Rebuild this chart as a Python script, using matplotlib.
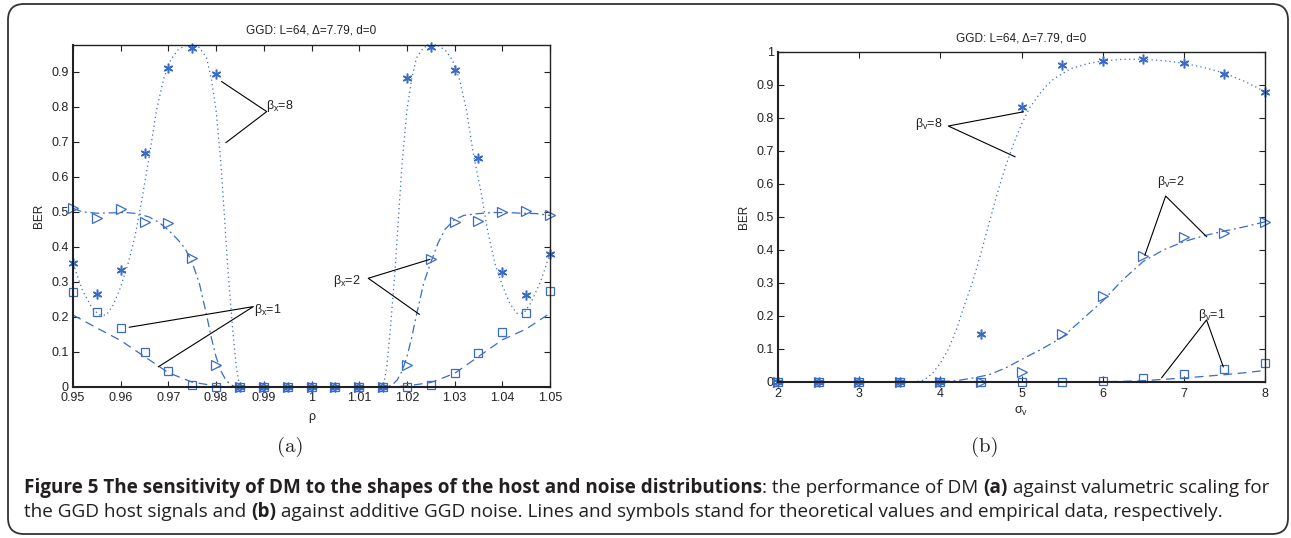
import numpy as np
import matplotlib
matplotlib.use('Agg')
import matplotlib.pyplot as plt
from matplotlib.patches import FancyBboxPatch
from matplotlib.transforms import IdentityTransform

plt.rcParams['font.family'] = ['Liberation Sans', 'DejaVu Sans']
plt.rcParams['mathtext.fontset'] = 'custom'
plt.rcParams['mathtext.rm'] = 'Liberation Sans'
plt.rcParams['mathtext.it'] = 'Liberation Sans'
plt.rcParams['mathtext.bf'] = 'Liberation Sans:bold'

# ---------------- data: panel (a) ----------------
rho = [0.950, 0.955, 0.960, 0.965, 0.970, 0.975, 0.980, 0.985, 0.990, 0.995, 1.000,
       1.005, 1.010, 1.015, 1.020, 1.025, 1.030, 1.035, 1.040, 1.045, 1.050]
emp_a_b8 = [0.353, 0.264, 0.334, 0.669, 0.912, 0.968, 0.894, 0, 0, 0, 0, 0, 0, 0,
            0.884, 0.971, 0.905, 0.655, 0.327, 0.263, 0.379]
emp_a_b2 = [0.510, 0.482, 0.507, 0.472, 0.467, 0.369, 0.062, 0, 0, 0, 0, 0, 0, 0,
            0.062, 0.364, 0.472, 0.475, 0.499, 0.503, 0.491]
emp_a_b1 = [0.272, 0.215, 0.167, 0.098, 0.045, 0.006, 0.0, 0, 0, 0, 0, 0, 0, 0,
            0.0, 0.005, 0.038, 0.095, 0.157, 0.212, 0.275]

th_a_b8_x = [0.950, 0.952, 0.954, 0.9555, 0.957, 0.9585, 0.960, 0.9615, 0.963, 0.9645,
             0.966, 0.9675, 0.969, 0.9705, 0.972, 0.9735, 0.975, 0.9765, 0.978, 0.979,
             0.980, 0.981, 0.9817, 0.9825, 0.9835, 0.9842, 0.9848, 0.985,
             1.015, 1.0152, 1.0158, 1.0165, 1.0175, 1.0183, 1.019, 1.020, 1.021, 1.022,
             1.0235, 1.025, 1.0265, 1.028, 1.0295, 1.031, 1.0325, 1.034, 1.0355, 1.037,
             1.0385, 1.040, 1.0415, 1.043, 1.0445, 1.046, 1.048, 1.050]
th_a_b8_y = [0.352, 0.275, 0.225, 0.205, 0.205, 0.235, 0.285, 0.350, 0.430, 0.540,
             0.660, 0.790, 0.880, 0.935, 0.963, 0.975, 0.977, 0.970, 0.940, 0.880,
             0.790, 0.640, 0.497, 0.330, 0.160, 0.060, 0.010, 0.0,
             0.0, 0.010, 0.060, 0.160, 0.330, 0.497, 0.640, 0.790, 0.880, 0.940,
             0.970, 0.977, 0.975, 0.963, 0.935, 0.880, 0.790, 0.660, 0.560, 0.440,
             0.350, 0.290, 0.240, 0.210, 0.210, 0.240, 0.300, 0.380]

th_a_b2_x = [0.950, 0.952, 0.955, 0.958, 0.961, 0.9635, 0.966, 0.968, 0.970, 0.972,
             0.9735, 0.975, 0.9765, 0.978, 0.979, 0.980, 0.981, 0.982, 0.983, 0.984,
             1.016, 1.017, 1.018, 1.019, 1.020, 1.021, 1.022, 1.0235, 1.025, 1.0265,
             1.028, 1.030, 1.032, 1.035, 1.038, 1.041, 1.044, 1.047, 1.050]
th_a_b2_y = [0.510, 0.500, 0.496, 0.497, 0.498, 0.495, 0.485, 0.470, 0.448, 0.420,
             0.395, 0.355, 0.295, 0.205, 0.140, 0.085, 0.045, 0.020, 0.006, 0.0,
             0.0, 0.006, 0.020, 0.045, 0.085, 0.140, 0.205, 0.295, 0.355, 0.410,
             0.450, 0.478, 0.490, 0.495, 0.498, 0.498, 0.496, 0.495, 0.490]

th_a_b1_x = [0.950, 0.955, 0.960, 0.965, 0.970, 0.975, 0.980, 0.9825,
             1.0175, 1.020, 1.025, 1.030, 1.035, 1.040, 1.045, 1.050]
th_a_b1_y = [0.205, 0.168, 0.132, 0.086, 0.040, 0.013, 0.002, 0.0,
             0.0, 0.002, 0.012, 0.038, 0.086, 0.134, 0.165, 0.210]

# ---------------- data: panel (b) ----------------
sigma = [2.0, 2.5, 3.0, 3.5, 4.0, 4.5, 5.0, 5.5, 6.0, 6.5, 7.0, 7.5, 8.0]
emp_b_b8 = [0, 0, 0, 0, 0, 0.144, 0.833, 0.960, 0.973, 0.978, 0.967, 0.932, 0.877]
emp_b_b2 = [0, 0, 0, 0, 0, 0, 0.031, 0.145, 0.261, 0.381, 0.440, 0.450, 0.485]
emp_b_b1 = [0, 0, 0, 0, 0, 0, 0, 0, 0.002, 0.013, 0.023, 0.039, 0.057]

th_b_b8_x = [2.0, 3.5, 3.7, 3.8, 3.9, 4.0, 4.1, 4.2, 4.3, 4.4, 4.5, 4.6, 4.7, 4.8, 4.9,
             5.0, 5.1, 5.2, 5.3, 5.4, 5.6, 5.8, 6.0, 6.25, 6.5, 6.75, 7.0, 7.25, 7.5,
             7.75, 8.0]
th_b_b8_y = [0.0, 0.0, 0.001, 0.006, 0.025, 0.057, 0.100, 0.160, 0.235, 0.305, 0.390,
             0.480, 0.570, 0.650, 0.720, 0.780, 0.830, 0.865, 0.895, 0.918, 0.948, 0.963,
             0.972, 0.977, 0.977, 0.973, 0.965, 0.952, 0.935, 0.910, 0.879]

th_b_b2_x = [2.0, 3.8, 4.0, 4.2, 4.4, 4.6, 4.8, 5.0, 5.25, 5.5, 5.75, 6.0, 6.25, 6.5,
             6.75, 7.0, 7.25, 7.5, 7.75, 8.0]
th_b_b2_y = [0.0, 0.0, 0.001, 0.004, 0.012, 0.022, 0.042, 0.068, 0.100, 0.135, 0.190,
             0.245, 0.310, 0.365, 0.400, 0.425, 0.443, 0.457, 0.470, 0.485]

th_b_b1_x = [2.0, 5.5, 6.0, 6.25, 6.5, 6.75, 7.0, 7.25, 7.5, 7.75, 8.0]
th_b_b1_y = [0.0, 0.0, 0.001, 0.002, 0.004, 0.008, 0.012, 0.017, 0.022, 0.028, 0.035]

xticks_a = [0.95, 0.96, 0.97, 0.98, 0.99, 1.00, 1.01, 1.02, 1.03, 1.04, 1.05]
xticklabels_a = ['0.95', '0.96', '0.97', '0.98', '0.99', '1', '1.01', '1.02', '1.03', '1.04', '1.05']
yticks_a = [0, 0.1, 0.2, 0.3, 0.4, 0.5, 0.6, 0.7, 0.8, 0.9]
yticklabels_a = ['0', '0.1', '0.2', '0.3', '0.4', '0.5', '0.6', '0.7', '0.8', '0.9']
xticks_b = [2, 3, 4, 5, 6, 7, 8]
yticks_b = [0, 0.1, 0.2, 0.3, 0.4, 0.5, 0.6, 0.7, 0.8, 0.9, 1.0]
yticklabels_b = ['0', '0.1', '0.2', '0.3', '0.4', '0.5', '0.6', '0.7', '0.8', '0.9', '1']

title_txt = 'GGD: L=64, \u0394=7.79, d=0'

# ---------------- figure ----------------
BLUE = '#3a6cc6'
INK = '#222222'
W, H = 1291, 538
fig = plt.figure(figsize=(W / 100, H / 100), dpi=100)


def ax_rect(l, t, r, b):
    return [l / W, 1 - b / H, (r - l) / W, (b - t) / H]


axA = fig.add_axes(ax_rect(73, 45, 550, 386.7))
axB = fig.add_axes(ax_rect(778, 51.7, 1265, 382))


def style(ax):
    ax.tick_params(direction='in', top=True, right=True, length=4, width=0.8,
                   labelsize=9, colors=INK)
    ax.tick_params(axis='x', pad=4)
    ax.tick_params(axis='y', pad=3)
    for k, s in ax.spines.items():
        s.set_color(INK)
        s.set_linewidth(1.5 if k in ('left', 'bottom') else 1.0)


def draw_series(ax, x, th8x, th8y, th2x, th2y, th1x, th1y, e8, e2, e1):
    ax.plot(th8x, th8y, color=BLUE, lw=0.9, dashes=(1, 2.6))
    ax.plot(th2x, th2y, color=BLUE, lw=0.9, dashes=(7, 3, 1.5, 3))
    ax.plot(th1x, th1y, color=BLUE, lw=0.9, dashes=(7, 4.5))
    ax.plot(x, e1, ls='none', marker='s', ms=6, mfc='none', mec=BLUE, mew=0.9, clip_on=False)
    ax.plot(x, e2, ls='none', marker='>', ms=7, mfc='none', mec=BLUE, mew=0.9, clip_on=False)
    ax.plot(x, e8, ls='none', marker=(6, 2, 0), ms=7, mec=BLUE, mew=1.1, clip_on=False)


# panel (a)
draw_series(axA, rho, th_a_b8_x, th_a_b8_y, th_a_b2_x, th_a_b2_y, th_a_b1_x, th_a_b1_y,
            emp_a_b8, emp_a_b2, emp_a_b1)
axA.set_xlim(0.95, 1.05)
axA.set_ylim(0, 0.977)
axA.set_xticks(xticks_a)
axA.set_xticklabels(xticklabels_a)
axA.set_yticks(yticks_a)
axA.set_yticklabels(yticklabels_a)
style(axA)
axA.set_title(title_txt, fontsize=8.5, pad=8, color=INK)
axA.set_xlabel('\u03c1', fontsize=9, labelpad=5, color=INK)
axA.set_ylabel('BER', fontsize=8.5, labelpad=5, color=INK)

axA.plot([0.98117, 0.99061, 0.98208], [0.8724, 0.7866, 0.698], color='k', lw=0.8)
axA.text(0.9905, 0.794, r'$\beta_{\mathrm{x}}$=8', fontsize=9, ha='left', va='baseline', color=INK)
axA.plot([0.9618, 0.9878, 0.9679], [0.170, 0.229, 0.057], color='k', lw=0.8)
axA.text(0.9880, 0.212, r'$\beta_{\mathrm{x}}$=1', fontsize=9, ha='left', va='baseline', color=INK)
axA.plot([1.0248, 1.0119, 1.0226], [0.364, 0.310, 0.207], color='k', lw=0.8)
axA.text(1.0046, 0.294, r'$\beta_{\mathrm{x}}$=2', fontsize=9, ha='left', va='baseline', color=INK)

# panel (b)
draw_series(axB, sigma, th_b_b8_x, th_b_b8_y, th_b_b2_x, th_b_b2_y, th_b_b1_x, th_b_b1_y,
            emp_b_b8, emp_b_b2, emp_b_b1)
axB.set_xlim(2, 8)
axB.set_ylim(0, 1)
axB.set_xticks(xticks_b)
axB.set_yticks(yticks_b)
axB.set_yticklabels(yticklabels_b)
style(axB)
axB.set_title(title_txt, fontsize=8.5, pad=7.5, color=INK)
axB.set_xlabel(r'$\sigma_{\mathrm{v}}$', fontsize=9, labelpad=4, color=INK)
axB.set_ylabel('BER', fontsize=8.5, labelpad=5, color=INK)

axB.plot([5.022, 4.098, 4.92], [0.818, 0.775, 0.682], color='k', lw=0.8)
axB.text(3.688, 0.773, r'$\beta_{\mathrm{v}}$=8', fontsize=9, ha='left', va='baseline', color=INK)
axB.plot([6.52, 6.776, 7.28], [0.384, 0.563, 0.44], color='k', lw=0.8)
axB.text(6.665, 0.596, r'$\beta_{\mathrm{v}}$=2', fontsize=9, ha='left', va='baseline', color=INK)
axB.plot([6.727, 7.28, 7.486], [0.013, 0.188, 0.046], color='k', lw=0.8)
axB.text(7.178, 0.193, r'$\beta_{\mathrm{v}}$=1', fontsize=9, ha='left', va='baseline', color=INK)

# panel letters
fig.text(290 / W, 1 - 447 / H, '(a)', family='cmr10', fontsize=15, ha='center', va='center', color=INK)
fig.text(985 / W, 1 - 447 / H, '(b)', family='cmr10', fontsize=15, ha='center', va='center', color=INK)

# caption
renderer = fig.canvas.get_renderer()
CAP_FONT = 'Open Sans'
CAP_SIZE = 13.6


def width_of(txt, weight):
    t1 = fig.text(0, 0, txt + '|', fontsize=CAP_SIZE, family=CAP_FONT, fontweight=weight)
    t2 = fig.text(0, 0, '|', fontsize=CAP_SIZE, family=CAP_FONT, fontweight=weight)
    w = t1.get_window_extent(renderer).width - t2.get_window_extent(renderer).width
    t1.remove()
    t2.remove()
    return w


def rich_line(x_px, y_px, pieces):
    x = x_px
    for txt, weight in pieces:
        fig.text(x / W, 1 - y_px / H, txt, fontsize=CAP_SIZE, family=CAP_FONT,
                 fontweight=weight, ha='left', va='baseline', color='#231f20')
        x += width_of(txt, weight)
    return x


rich_line(24, 493, [
    ('Figure 5 The sensitivity of DM to the shapes of the host and noise distributions', 'bold'),
    (': the performance of DM ', 'normal'),
    ('(a)', 'bold'),
    (' against valumetric scaling for', 'normal'),
])
rich_line(24, 517, [
    ('the GGD host signals and ', 'normal'),
    ('(b)', 'bold'),
    (' against additive GGD noise. Lines and symbols stand for theoretical values and empirical data, respectively.', 'normal'),
])

# rounded frame
frame = FancyBboxPatch((8, 4), 1280, 530, boxstyle='round,pad=0,rounding_size=16',
                       transform=IdentityTransform(), fill=False, ec='#333333', lw=1.3)
fig.add_artist(frame)

fig.savefig('out.png', dpi=100)
